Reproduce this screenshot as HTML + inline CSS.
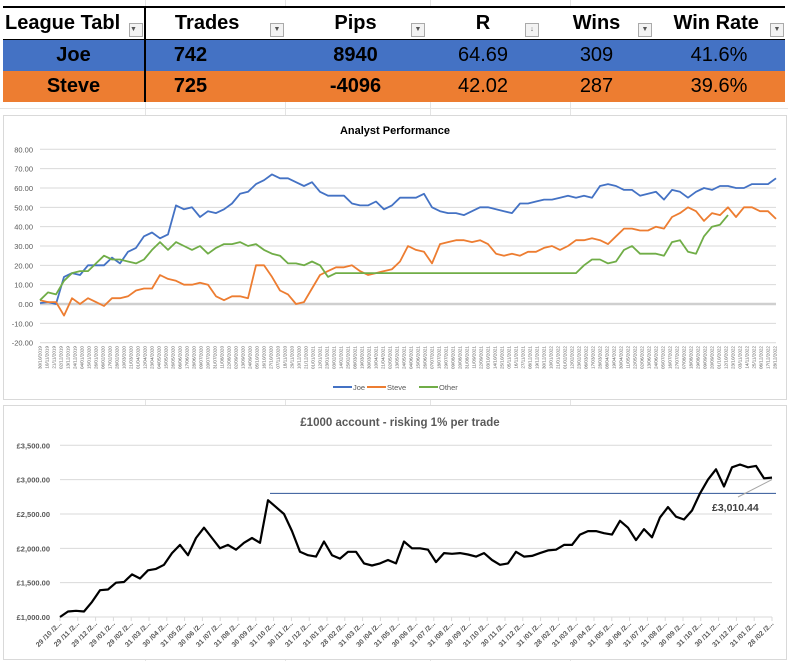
<!DOCTYPE html>
<html><head><meta charset="utf-8">
<style>
body{margin:0;width:788px;height:661px;background:#fff;overflow:hidden;font-family:"Liberation Sans",sans-serif;position:relative}
.bgv{position:absolute;top:0;width:1px;height:661px;background:#e4e4e4}
.bgh{position:absolute;left:0;height:1px;width:788px;background:#e4e4e4}
table{position:absolute;left:3px;top:6px;border-collapse:collapse;table-layout:fixed;width:782px}
td{height:31px;padding:0;text-align:center;font-size:20px;white-space:nowrap;overflow:hidden;position:relative}
tr.h td{background:#fff;font-weight:bold;border-top:2px solid #000;border-bottom:1px solid #000}
tr.j td{background:#4472c4;color:#000}
tr.s td{background:#ed7d31;color:#000}
td.c0{border-right:2px solid #000;font-weight:bold}
.dd{position:absolute;right:1px;top:15px;width:12px;height:12px;border:1px solid #aaa;background:#f3f3f3;font-size:7px;line-height:12px;color:#555}
.b{font-weight:bold}
.panel{position:absolute;border:1px solid #d9d9d9;background:#fff}
</style></head><body>
<div class="bgv" style="left:145px"></div><div class="bgv" style="left:285px"></div><div class="bgv" style="left:430px"></div><div class="bgv" style="left:570px"></div>
<div class="bgh" style="top:108px"></div>
<table>
<colgroup><col style="width:142px"><col style="width:140px"><col style="width:141px"><col style="width:114px"><col style="width:113px"><col style="width:132px"></colgroup>
<tr class="h">
<td class="c0" style="text-align:left;padding-left:2px">League Tabl<span class="dd">▼</span></td>
<td>Trades&nbsp;&nbsp;&nbsp;<span class="dd">▼</span></td>
<td>Pips<span class="dd">▼</span></td>
<td>R<span class="dd">↓</span></td>
<td>Wins<span class="dd">▼</span></td>
<td>Win Rate&nbsp;<span class="dd">▼</span></td>
</tr>
<tr class="j">
<td class="c0">Joe</td>
<td class="b" style="padding-right:50px">742</td>
<td class="b">8940</td>
<td>64.69</td>
<td>309</td>
<td>41.6%</td>
</tr>
<tr class="s">
<td class="c0">Steve</td>
<td class="b" style="padding-right:50px">725</td>
<td class="b">-4096</td>
<td>42.02</td>
<td>287</td>
<td>39.6%</td>
</tr>
</table>

<div class="panel" style="left:3px;top:115px;width:782px;height:283px"></div>
<div class="panel" style="left:3px;top:405px;width:782px;height:253px"></div>

<svg id="c1" width="788" height="661" style="position:absolute;left:0;top:0"></svg>

<script>
const joe=[0.5,1,0,14,16,15,20,20,20,24,21,27,29,35,37,34,36,51,49,50,45,48,47,49,52,57,58,62,64,67,65,65,63,61,63,58,56,56,56,52,51,51,53,49,51,55,
55,55,57,50,48,47,47,46,48,50,50,49,48,47,52,52,53,54,54,55,56,55,56,55,61,62,61,59,59,56,57,58,54,59,58,55,58,60,59,61,61,60,60,62,62,62,65];
const steve=[2,1,1,-6,3,0,3,1,-1,3,3,4,7,8,8,15,13,12,10,10,11,10,4,2,4,4,3,20,20,14,7,5,0,1,8,15,17,19,19,20,17,15,16,17,18,22,
30,28,27,21,31,32,33,33,32,33,31,26,25,26,25,27,27,29,30,28,30,33,33,34,33,31,35,39,39,38,38,40,39,45,47,50,48,43,47,46,50,45,50,50,48,48,44];
const other=[2,6,5,12,16,17,17,21,25,23,23,22,21,23,28,32,28,32,30,28,30,26,29,31,31,32,30,31,28,26,25,21,21,20,22,20,14,16,16,16,16,16,16,16,16,16,
16,16,16,16,16,16,16,16,16,16,16,16,16,16,16,16,16,16,16,16,16,16,20,23,23,21,22,28,30,26,26,26,25,32,33,27,26,35,40,41,46];
const yTicks1=[80,70,60,50,40,30,20,10,0,-10,-20];
const account=[1000,1080,1090,1080,1220,1390,1400,1500,1510,1620,1560,1680,1700,1760,1930,2050,1900,2150,2300,2150,2000,2050,1980,2080,2150,2080,2700,2600,2500,2250,1950,1900,1880,2100,1900,1850,1950,1950,1780,1750,1780,1830,1780,
2100,2000,2000,1980,1800,1930,1920,1930,1910,1880,1930,1830,1760,1780,1950,1880,1890,1930,1970,1980,2050,2050,2200,2250,2250,2220,2200,2400,2300,2120,2280,2160,2450,2600,2460,2420,2550,2800,3000,3150,2900,3180,3220,3180,3200,3020,3030];
const yTicks2=[3500,3000,2500,2000,1500,1000];
const refLevel=2800;
const lastValueLabel="£3,010.44";
const monthLabels=["29 /10 /2...","29 /11 /2...","29 /12 /2...","29 /01 /2...","29 /02 /2...","31 /03 /2...","30 /04 /2...","31 /05 /2...","30 /06 /2...","31 /07 /2...","31 /08 /2...","30 /09 /2...","31 /10 /2...","30 /11 /2...","31 /12 /2...","31 /01 /2...","28 /02 /2...","31 /03 /2...","30 /04 /2...","31 /05 /2...","30 /06 /2...","31 /07 /2...","31 /08 /2...","30 /09 /2...","31 /10 /2...","30 /11 /2...","31 /12 /2...","31 /01 /2...","28 /02 /2...","31 /03 /2...","30 /04 /2...","31 /05 /2...","30 /06 /2...","31 /07 /2...","31 /08 /2...","30 /09 /2...","31 /10 /2...","30 /11 /2...","31 /12 /2...","31 /01 /2...","28 /02 /2..."];

const NS="http://www.w3.org/2000/svg";
const svg=document.getElementById('c1');
function mk(tag,attrs,parent){const e=document.createElementNS(NS,tag);for(const k in attrs)e.setAttribute(k,attrs[k]);(parent||svg).appendChild(e);return e;}

// Chart 1 axes
const L1=40,R1=776,yTop1=149.3,yBot1=342.7,yMax1=80,yMin1=-20;
const nPts=joe.length;
const x1=i=>L1+i*(R1-L1)/(nPts-1);
const y1=v=>yTop1+(yMax1-v)*(yBot1-yTop1)/(yMax1-yMin1);
let t=mk('text',{x:395,y:134,'text-anchor':'middle','font-size':'11','font-weight':'bold',fill:'#000'});


t.textContent='Analyst Performance';
yTicks1.forEach(v=>{
  const g=mk('line',{x1:L1,x2:R1,y1:y1(v),y2:y1(v),stroke:v===0?'#cfcfcf':'#d9d9d9','stroke-width':v===0?2.5:1});
  
  
  const l=mk('text',{x:33,y:y1(v)+3,'text-anchor':'end','font-size':'7.5',fill:'#595959'});
  
  
  l.textContent=v.toFixed(2);
});
// date tick labels
const d0=new Date(2019,9,30);
for(let k=0;k<106;k++){
  const d=new Date(d0.getTime()+k*11*86400000);
  const s=String(d.getDate()).padStart(2,'0')+'/'+String(d.getMonth()+1).padStart(2,'0')+'/'+d.getFullYear();
  const x=L1+k*7;
  if(x>R1)break;
  const l=mk('text',{x:0,y:0,transform:`translate(${x+1.5},346) rotate(-90)`,'text-anchor':'end','font-size':'4.6',fill:'#595959'});
  
  
  l.textContent=s;
}
function line(arr,xf,yf,color,w,name){
  let d='';arr.forEach((v,i)=>{if(v==null)return;d+=(d?'L':'M')+xf(i).toFixed(1)+' '+yf(v).toFixed(1);});
  const p=mk('path',{d,fill:'none',stroke:color,'stroke-width':w,'stroke-linejoin':'round'});
  
  
}
line(joe,x1,y1,'#4472c4',1.8,'joe-line');
line(steve,x1,y1,'#ed7d31',1.8,'steve-line');
line(other,x1,y1,'#70ad47',1.8,'other-line');
// legend
[['Joe','#4472c4',333],['Steve','#ed7d31',367],['Other','#70ad47',419]].forEach(([n,c,x])=>{
  const g=mk('g',{});
  
  
  mk('line',{x1:x,x2:x+19,y1:387,y2:387,stroke:c,'stroke-width':2},g);
  const tt=mk('text',{x:x+20,y:390,'font-size':'7.5',fill:'#595959'},g);
  tt.textContent=n;
});

// Chart 2
const L2=60,R2=772,yTop2=445.3,yBot2=617,yMax2=3500,yMin2=1000;
const x2=i=>L2+i*(R2-L2)/(account.length-1);
const y2=v=>yTop2+(yMax2-v)*(yBot2-yTop2)/(yMax2-yMin2);
t=mk('text',{x:400,y:426,'text-anchor':'middle','font-size':'11.5','font-weight':'bold',fill:'#595959'});


t.textContent='£1000 account - risking 1% per trade';
yTicks2.forEach(v=>{
  const g=mk('line',{x1:L2,x2:R2,y1:y2(v),y2:y2(v),stroke:'#d9d9d9','stroke-width':1});
  
  
  const l=mk('text',{x:50,y:y2(v)+3,'text-anchor':'end','font-size':'7.5','font-weight':'bold',fill:'#595959'});
  
  
  l.textContent='£'+v.toLocaleString('en-GB')+'.00';
});
monthLabels.forEach((s,k)=>{
  const x=L2+k*(R2-L2)/(monthLabels.length-1);
  const tk=mk('line',{x1:x,x2:x,y1:617,y2:621,stroke:'#d9d9d9'});
  
  
  const l=mk('text',{x:0,y:0,transform:`translate(${x+2},624) rotate(-45)`,'text-anchor':'end','font-size':'7','font-weight':'bold',fill:'#595959'});
  
  
  l.textContent=s;
});
const ref=mk('line',{x1:270,x2:776,y1:y2(refLevel),y2:y2(refLevel),stroke:'#2f5597','stroke-width':1});


line(account,x2,y2,'#000',2.2,'account-line');
const ld=mk('line',{x1:738,y1:497,x2:x2(account.length-1),y2:y2(account[account.length-1])+2,stroke:'#a6a6a6','stroke-width':1});


t=mk('text',{x:712,y:511,'font-size':'10.5','font-weight':'bold',fill:'#404040'});


t.textContent=lastValueLabel;
</script>
</body></html>
